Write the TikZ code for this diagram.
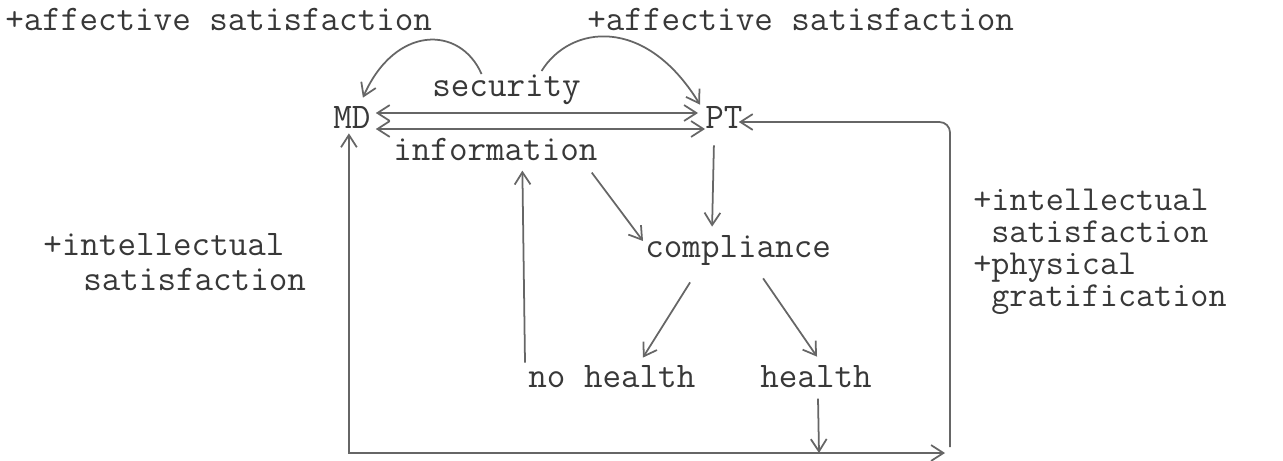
\documentclass[tikz,border=0pt]{standalone}
\usetikzlibrary{arrows.meta,calc}

\definecolor{ink}{HTML}{383838}
\definecolor{pen}{HTML}{666666}

\tikzset{
  lbl/.style={font=\ttfamily\fontsize{20.5}{24}\selectfont, text=ink, inner sep=0pt, anchor=base west},
  side/.style={lbl, font=\ttfamily\fontsize{20}{24}\selectfont},
  link/.style={draw=pen, line width=1pt},
  >={Straight Barb[length=7pt,width=9pt]},
}

\begin{document}
\begin{tikzpicture}[x=0.02cm,y=-0.02cm]
    \useasboundingbox (0,0) rectangle (1283,460);

    % labels
    \node (affl) at (5,30) [lbl] {+affective satisfaction};
    \node (affr) at (587,30) [lbl] {+affective satisfaction};
    \node (security) at (432,96) [lbl] {security};
    \node (MD) at (333,128) [lbl] {MD};
    \node (PT) at (705,128) [lbl] {PT};
    \node (information) at (393,160) [lbl] {information};
    \node (compliance) at (645,257) [lbl] {compliance};
    \node (nohealth) at (528,387) [lbl] {no health};
    \node (health) at (760,387) [lbl] {health};

    \node (intl) at (43,255) [lbl] {+intellectual};
    \node (satl) at (83,290) [lbl] {satisfaction};
    \node (intr) at (973,210) [side] {+intellectual};
    \node (satr) at (991,242) [side] {satisfaction};
    \node (phys) at (973,274) [side] {+physical};
    \node (grat) at (991,306) [side] {gratification};

    % security and information between MD and PT
    \draw [link, <->] ($(MD.east)+(5,-4)$) -- ($(PT.west)+(-7,-4)$);
    \draw [link, <->] ($(MD.east)+(5,12)$) -- ($(PT.west)+(0,12)$);
    \draw [link, ->] ($(security.north)+(-25,0)$) .. controls (460,25) and (395,25) .. ($(MD.north)+(11,-8)$);
    \draw [link, ->] ($(security.north)+(35,-3)$) .. controls (570,25) and (645,15) .. ($(PT.north west)+(-5,-1)$);

    % compliance and outcomes
    \draw [link, ->] ($(PT.south)+(-10,17)$) -- ($(compliance.north)+(-26,-8)$);
    \draw [link, ->] ($(information.south east)+(-6,12)$) -- ($(compliance.west)+(-2,-9)$);
    \draw [link, ->] ($(nohealth.north west)+(-3,-2)$) -- ($(information.south)+(27,10)$);
    \draw [link, ->] ($(compliance.south)+(-48,17)$) -- ($(nohealth.north)+(31,-7)$);
    \draw [link, ->] ($(compliance.south)+(25,13)$) -- ($(health.north)+(1,-8)$);

    % feedback loop
    \coordinate (jn) at (819,453);
    \coordinate (bl) at (349,453);
    \coordinate (br) at (945,453);
    \coordinate (rb) at (950,447);
    \coordinate (tr) at (950,122);
    \draw [link, ->] ($(health.south)+(2,11)$) -- (jn);
    \draw [link, ->] (jn) -- (bl) -- ($(MD.south)+(-3,5)$);
    \draw [link, ->] (jn) -- (br);
    \draw [link, ->, rounded corners=6pt] (rb) -- (tr) -- ($(PT.east)+(-4,5)$);
\end{tikzpicture}
\end{document}
